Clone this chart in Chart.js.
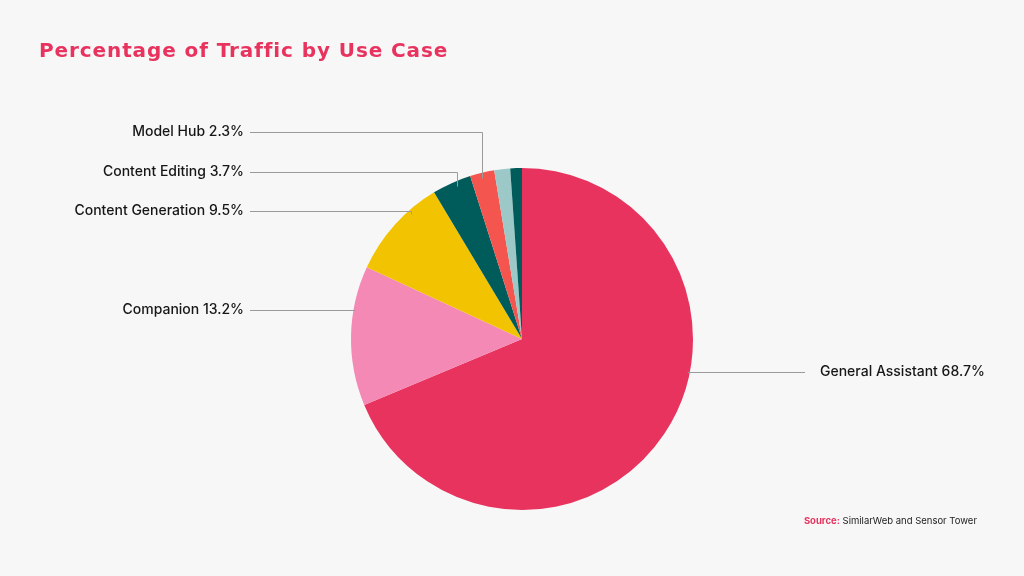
<!DOCTYPE html>
<html>
<head>
<meta charset="utf-8">
<script src="https://cdn.jsdelivr.net/npm/chart.js@4.4.1/dist/chart.umd.min.js"></script>
<style>
  html, body { margin: 0; padding: 0; background: #f7f7f7; }
  #wrap { position: relative; width: 1024px; height: 576px; }
  #title {
    position: absolute; left: 39px; top: 38px; margin: 0;
    font: bold 20px "DejaVu Sans", sans-serif; color: #e8335f; letter-spacing: 0.9px;
  }
  #source {
    position: absolute; right: 47px; top: 515px;
    font: 9.5px Inter, sans-serif; color: #222;
  }
  #source b { color: #e8335f; }
</style>
</head>
<body>
<div id="wrap">
  <canvas id="pieChart" width="1024" height="576"></canvas>
  <h1 id="title">Percentage of Traffic by Use Case</h1>
  <div id="source"><b>Source:</b> SimilarWeb and Sensor Tower</div>
</div>
<script>
const categories = ["General Assistant", "Companion", "Content Generation", "Content Editing", "Model Hub", "Other A", "Other B"];
const shares = [68.7, 13.2, 9.5, 3.7, 2.3, 1.5, 1.1];
const colors = ["#e8335f", "#f589b5", "#f2c300", "#005c5a", "#f5554f", "#9dc8c8", "#005c5a"];

// where each callout sits (only the first five slices are labelled)
const callouts = [
  { i: 4, type: "drop", y: 132, frac: 0.5 },
  { i: 3, type: "drop", y: 172, frac: 0.65 },
  { i: 2, type: "drop", y: 211, frac: 0.72 },
  { i: 1, type: "left", y: 310 },
  { i: 0, type: "right", y: 372 }
];

const calloutPlugin = {
  id: "callouts",
  afterDraw(chart) {
    const ctx = chart.ctx;
    const meta = chart.getDatasetMeta(0);
    const first = meta.data[0];
    const cx = first.x, cy = first.y, r = first.outerRadius;
    ctx.save();
    ctx.strokeStyle = "#9a9a9a";
    ctx.lineWidth = 1;
    ctx.font = "500 14px Inter, sans-serif";
    ctx.fillStyle = "#161616";
    ctx.textBaseline = "middle";
    callouts.forEach(c => {
      const arc = meta.data[c.i];
      const text = `${categories[c.i]} ${shares[c.i]}%`;
      const y = c.y + 0.5;
      ctx.beginPath();
      if (c.type === "drop") {
        const a = arc.startAngle + c.frac * (arc.endAngle - arc.startAngle);
        const x = Math.round(cx + r * Math.cos(a)) + 0.5;
        const yEdge = cy - Math.sqrt(r * r - (x - cx) * (x - cx));
        ctx.moveTo(250, y);
        ctx.lineTo(x, y);
        ctx.lineTo(x, Math.max(yEdge + 6, y));
        ctx.stroke();
        ctx.textAlign = "right";
        ctx.fillText(text, 244, c.y);
      } else if (c.type === "left") {
        const xEdge = cx - Math.sqrt(r * r - (c.y - cy) * (c.y - cy));
        ctx.moveTo(250, y);
        ctx.lineTo(xEdge + 2, y);
        ctx.stroke();
        ctx.textAlign = "right";
        ctx.fillText(text, 244, c.y);
      } else {
        const xEdge = cx + Math.sqrt(r * r - (c.y - cy) * (c.y - cy));
        ctx.moveTo(xEdge - 2, y);
        ctx.lineTo(805, y);
        ctx.stroke();
        ctx.textAlign = "left";
        ctx.fillText(text, 820, c.y);
      }
    });
    ctx.restore();
  }
};

new Chart(document.getElementById("pieChart"), {
  type: "pie",
  data: {
    labels: categories,
    datasets: [{
      data: shares,
      backgroundColor: colors,
      borderWidth: 0
    }]
  },
  options: {
    responsive: false,
    animation: false,
    layout: { padding: { top: 168, bottom: 66, left: 351, right: 331 } },
    plugins: {
      legend: { display: false },
      tooltip: { enabled: false }
    }
  },
  plugins: [calloutPlugin]
});
</script>
</body>
</html>
